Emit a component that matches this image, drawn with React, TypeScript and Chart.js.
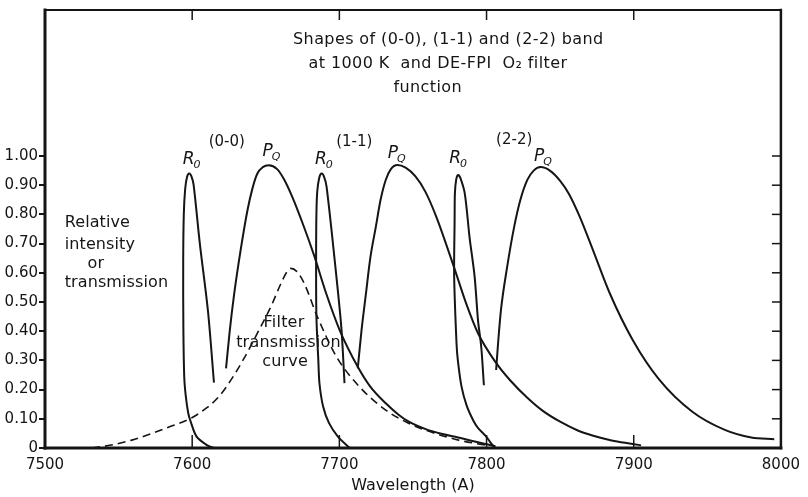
import { useEffect, useRef } from 'react';
import { Chart, registerables } from 'chart.js';

Chart.register(...registerables);

const FONT = '"DejaVu Sans", sans-serif';
const INK = '#151515';

// Axis ticks
const X_TICKS = [7500, 7600, 7700, 7800, 7900, 8000];
const Y_TICKS = [0, 0.1, 0.2, 0.3, 0.4, 0.5, 0.6, 0.7, 0.8, 0.9, 1.0];

// (0-0) band, R0 head (traced as drawn: tail -> left edge -> peak -> right edge)
const R00_X = [7615, 7610, 7603, 7599, 7597.3, 7595.6, 7594.6, 7594.0, 7593.9, 7594.3, 7595.2, 7596.5, 7598.0, 7599.5, 7601, 7605.2, 7610.7, 7614.8];
const R00_Y = [0.0, 0.01, 0.039, 0.09, 0.12, 0.18, 0.244, 0.415, 0.644, 0.8, 0.885, 0.928, 0.94, 0.93, 0.9, 0.7, 0.47, 0.224];
// (0-0) band, P0
const P00_X = [7623, 7625.5, 7628.6, 7633, 7637.6, 7641, 7644.3, 7648, 7652, 7657.7, 7662.2, 7668, 7675.6, 7683, 7691, 7700.2, 7712.5, 7721, 7731.5, 7740, 7747.2, 7760, 7770, 7780.7, 7792, 7800.9, 7806];
const P00_Y = [0.273, 0.4, 0.53, 0.68, 0.815, 0.89, 0.94, 0.962, 0.968, 0.955, 0.922, 0.86, 0.762, 0.657, 0.53, 0.404, 0.278, 0.21, 0.153, 0.115, 0.09, 0.062, 0.048, 0.036, 0.022, 0.012, 0.006];

// (1-1) band, R0 head
const R11_X = [7707, 7699, 7693, 7689, 7686.5, 7685.7, 7684.4, 7684.2, 7684.4, 7685, 7686.3, 7687.9, 7689.5, 7691.3, 7696.8, 7701.3, 7703.5];
const R11_Y = [0.0, 0.039, 0.085, 0.141, 0.22, 0.301, 0.45, 0.644, 0.8, 0.88, 0.925, 0.94, 0.93, 0.895, 0.644, 0.415, 0.222];
// (1-1) band, P0
const P11_X = [7712.5, 7715, 7718.1, 7721, 7724.8, 7728, 7731.5, 7735, 7739.4, 7745, 7751.7, 7758.4, 7766, 7778.5, 7786, 7794.2, 7806, 7816, 7827.7, 7838, 7850, 7862, 7872.5, 7885, 7899.3, 7905];
const P11_Y = [0.273, 0.4, 0.53, 0.65, 0.758, 0.85, 0.918, 0.955, 0.969, 0.96, 0.93, 0.878, 0.79, 0.61, 0.497, 0.393, 0.295, 0.232, 0.172, 0.128, 0.09, 0.06, 0.042, 0.026, 0.014, 0.009];

// (2-2) band, R0 head
const R22_X = [7806, 7803.1, 7799.8, 7794, 7790.8, 7786.5, 7783, 7780.5, 7779.6, 7778, 7778.3, 7778.5, 7779.4, 7780.7, 7782.2, 7785.2, 7788.5, 7791.9, 7794.2, 7796.4, 7798.2];
const R22_Y = [0.0, 0.016, 0.039, 0.07, 0.096, 0.145, 0.21, 0.3, 0.358, 0.587, 0.78, 0.872, 0.92, 0.935, 0.925, 0.872, 0.72, 0.587, 0.437, 0.346, 0.215];
// (2-2) band, P0
const P22_X = [7806.5, 7808, 7809.8, 7814, 7818.8, 7823, 7827.7, 7832, 7836.7, 7843, 7850, 7856, 7863.5, 7872.5, 7883.7, 7899.3, 7917.2, 7939.6, 7961.9, 7979.9, 7995.5];
const P22_Y = [0.267, 0.37, 0.473, 0.62, 0.758, 0.85, 0.918, 0.95, 0.962, 0.95, 0.915, 0.87, 0.79, 0.675, 0.53, 0.37, 0.235, 0.125, 0.062, 0.036, 0.03];

// DE-FPI O2 filter transmission (dashed)
const FILTER_X = [7532, 7545, 7559, 7570, 7581.7, 7599.5, 7610, 7617.4, 7624, 7635, 7645, 7654, 7660, 7664, 7667, 7671, 7676, 7685, 7698, 7713.6, 7731.5, 7747, 7758, 7781, 7799];
const FILTER_Y = [0.0, 0.01, 0.027, 0.045, 0.067, 0.103, 0.138, 0.172, 0.215, 0.305, 0.4, 0.49, 0.56, 0.6, 0.615, 0.605, 0.565, 0.45, 0.313, 0.21, 0.13, 0.085, 0.062, 0.027, 0.01];

// Text annotations, anchored in data coordinates (wavelength, value)
const TITLE_LINES = [
  { text: 'Shapes of (0-0), (1-1) and (2-2) band', x: 7774, y: 1.397 },
  { text: 'at 1000 K  and DE-FPI  O\u2082 filter', x: 7767, y: 1.315 },
  { text: 'function', x: 7760, y: 1.233 },
];
const SIDE_LINES = [
  { text: 'Relative', x: 7513.4, y: 0.772 },
  { text: 'intensity', x: 7513.4, y: 0.697 },
  { text: 'or', x: 7528.9, y: 0.632 },
  { text: 'transmission', x: 7513.4, y: 0.564 },
];
const FILTER_LINES = [
  { text: 'Filter', x: 7662.4, y: 0.427 },
  { text: 'transmission', x: 7665.4, y: 0.359 },
  { text: 'curve', x: 7663.1, y: 0.294 },
];
const BAND_LABELS = [
  { text: '(0-0)', x: 7623.5, y: 1.049 },
  { text: '(1-1)', x: 7710.1, y: 1.049 },
  { text: '(2-2)', x: 7818.8, y: 1.056 },
];
const BRANCH_LABELS = [
  { main: 'R', sub: '0', x: 7593.6, y: 0.974 },
  { main: 'P', sub: 'Q', x: 7647.7, y: 1.001 },
  { main: 'R', sub: '0', x: 7683.4, y: 0.974 },
  { main: 'P', sub: 'Q', x: 7732.9, y: 0.994 },
  { main: 'R', sub: '0', x: 7774.6, y: 0.977 },
  { main: 'P', sub: 'Q', x: 7832.2, y: 0.984 },
];

function pts(xs: number[], ys: number[]) {
  return xs.map((x, i) => ({ x, y: ys[i] }));
}

const framePlugin = {
  id: 'framePlugin',
  afterDraw(chart: any) {
    const { ctx, chartArea: a, scales } = chart;
    const xs = scales.x;
    const ys = scales.y;
    const seg = (x1: number, y1: number, x2: number, y2: number, w: number) => {
      ctx.beginPath();
      ctx.lineWidth = w;
      ctx.moveTo(x1, y1);
      ctx.lineTo(x2, y2);
      ctx.stroke();
    };
    ctx.save();
    ctx.strokeStyle = INK;
    ctx.lineCap = 'square';
    seg(a.left, a.top, a.left, a.bottom, 3);
    seg(a.left, a.bottom, a.right, a.bottom, 3);
    seg(a.left, a.top, a.right, a.top, 2);
    seg(a.right, a.top, a.right, a.bottom, 2.5);
    ctx.lineCap = 'butt';
    X_TICKS.slice(1, -1).forEach((v) => {
      const px = xs.getPixelForValue(v);
      seg(px, a.bottom, px, a.bottom - 13, 1.5);
      seg(px, a.top, px, a.top + 10, 1.5);
    });
    Y_TICKS.slice(1).forEach((v) => {
      const py = ys.getPixelForValue(v);
      seg(a.right, py, a.right - 9, py, 1.5);
    });

    ctx.fillStyle = INK;
    ctx.textBaseline = 'middle';
    const put = (items: any[], size: number, align: CanvasTextAlign, spacing: string) => {
      ctx.font = `${size}px ${FONT}`;
      ctx.textAlign = align;
      (ctx as any).letterSpacing = spacing;
      items.forEach((t) => ctx.fillText(t.text, xs.getPixelForValue(t.x), ys.getPixelForValue(t.y)));
    };
    put(TITLE_LINES, 16, 'center', '0.4px');
    put(SIDE_LINES, 16, 'left', '0.1px');
    put(FILTER_LINES, 16, 'center', '0.2px');
    put(BAND_LABELS, 15, 'center', '0px');
    (ctx as any).letterSpacing = '0px';

    ctx.textBaseline = 'alphabetic';
    ctx.textAlign = 'left';
    BRANCH_LABELS.forEach((b) => {
      const px = xs.getPixelForValue(b.x);
      const py = ys.getPixelForValue(b.y);
      ctx.font = `italic 17px ${FONT}`;
      ctx.fillText(b.main, px, py);
      const w = ctx.measureText(b.main).width;
      ctx.font = `italic 11px ${FONT}`;
      ctx.fillText(b.sub, px + w - 1, py + 4);
    });
    ctx.restore();
  },
};

export default function App() {
  const ref = useRef<HTMLCanvasElement>(null);
  useEffect(() => {
    const canvas = ref.current;
    if (!canvas) return;
    const head = (label: string, xs: number[], ys: number[]) => ({
      label,
      data: pts(xs, ys),
      borderColor: INK,
      backgroundColor: INK,
      borderWidth: 2,
      pointRadius: 0,
      tension: 0.3,
      fill: false,
      showLine: true,
    });
    const branch = (label: string, xs: number[], ys: number[]) => ({
      label,
      data: pts(xs, ys),
      borderColor: INK,
      backgroundColor: INK,
      borderWidth: 2,
      pointRadius: 0,
      cubicInterpolationMode: 'monotone',
      fill: false,
      showLine: true,
    });
    const chart = new Chart(canvas, {
      type: 'scatter',
      data: {
        datasets: [
          head('R0 (0-0)', R00_X, R00_Y),
          branch('P0 (0-0)', P00_X, P00_Y),
          head('R0 (1-1)', R11_X, R11_Y),
          branch('P0 (1-1)', P11_X, P11_Y),
          head('R0 (2-2)', R22_X, R22_Y),
          branch('P0 (2-2)', P22_X, P22_Y),
          {
            label: 'Filter transmission',
            data: pts(FILTER_X, FILTER_Y),
            borderColor: INK,
            borderWidth: 1.6,
            borderDash: [8, 5],
            pointRadius: 0,
            cubicInterpolationMode: 'monotone',
            fill: false,
            showLine: true,
          },
        ],
      },
      options: {
        responsive: false,
        animation: false,
        devicePixelRatio: 1,
        layout: { padding: { top: 9, right: 18, left: 0, bottom: 0 } },
        plugins: { legend: { display: false }, tooltip: { enabled: false }, title: { display: false } },
        scales: {
          x: {
            type: 'linear',
            min: 7500,
            max: 8000,
            afterBuildTicks: (s: any) => {
              s.ticks = X_TICKS.map((v) => ({ value: v }));
            },
            afterFit: (s: any) => {
              s.height = 49;
            },
            grid: { display: false, drawTicks: false },
            border: { display: false },
            ticks: {
              color: INK,
              autoSkip: false,
              maxRotation: 0,
              padding: 8,
              font: { family: FONT, size: 15 },
              callback: (v: any) => String(v),
            },
            title: {
              display: true,
              text: 'Wavelength (A)',
              color: INK,
              font: { family: FONT, size: 16 },
              padding: { top: 0, bottom: 2 },
            },
          },
          y: {
            type: 'linear',
            min: 0,
            max: 1.5,
            afterBuildTicks: (s: any) => {
              s.ticks = Y_TICKS.map((v) => ({ value: v }));
            },
            afterFit: (s: any) => {
              s.width = 45;
            },
            grid: { drawOnChartArea: false, drawTicks: true, tickLength: 6, color: INK, lineWidth: 2 },
            border: { display: false },
            ticks: {
              color: INK,
              padding: 1,
              font: { family: FONT, size: 15 },
              callback: (v: any) => (Number(v) === 0 ? '0' : Number(v).toFixed(2)),
            },
          },
        },
      },
      plugins: [framePlugin],
    } as any);
    return () => chart.destroy();
  }, []);
  return (
    <div style={{ position: 'fixed', left: 0, top: 0, width: 808, height: 497, background: '#fff' }}>
      <canvas ref={ref} width={808} height={497} style={{ display: 'block' }} />
    </div>
  );
}
